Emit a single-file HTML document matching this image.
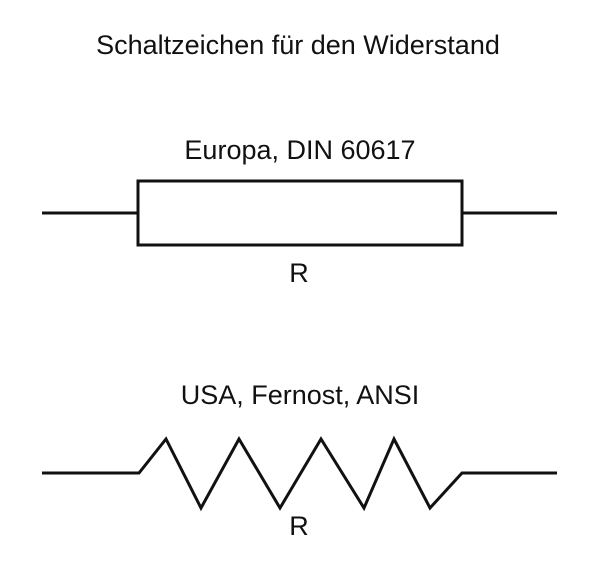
<!DOCTYPE html>
<html><head><style>body{margin:0;background:#fff}</style></head><body>
<svg width="600" height="564" xmlns="http://www.w3.org/2000/svg" font-family="Liberation Sans, sans-serif" fill="#111">
<text x="298" y="54" font-size="27" text-anchor="middle">Schaltzeichen für den Widerstand</text>
<text x="300" y="159" font-size="27" text-anchor="middle">Europa, DIN 60617</text>
<text x="299" y="282" font-size="27" text-anchor="middle">R</text>
<text x="300" y="404" font-size="27" text-anchor="middle">USA, Fernost, ANSI</text>
<text x="299" y="535" font-size="27" text-anchor="middle">R</text>
<g stroke="#111" stroke-width="3" fill="none">
<line x1="42" y1="213" x2="138" y2="213"/>
<line x1="462" y1="213" x2="557" y2="213"/>
<rect x="138" y="181" width="324" height="64"/>
<polyline stroke-linejoin="miter" points="42,473 139,473 166,439 201,508 239,439 280,508 321,439 364,508 394,439 430,508 462,473 557,473"/>
</g>
</svg>
</body></html>
